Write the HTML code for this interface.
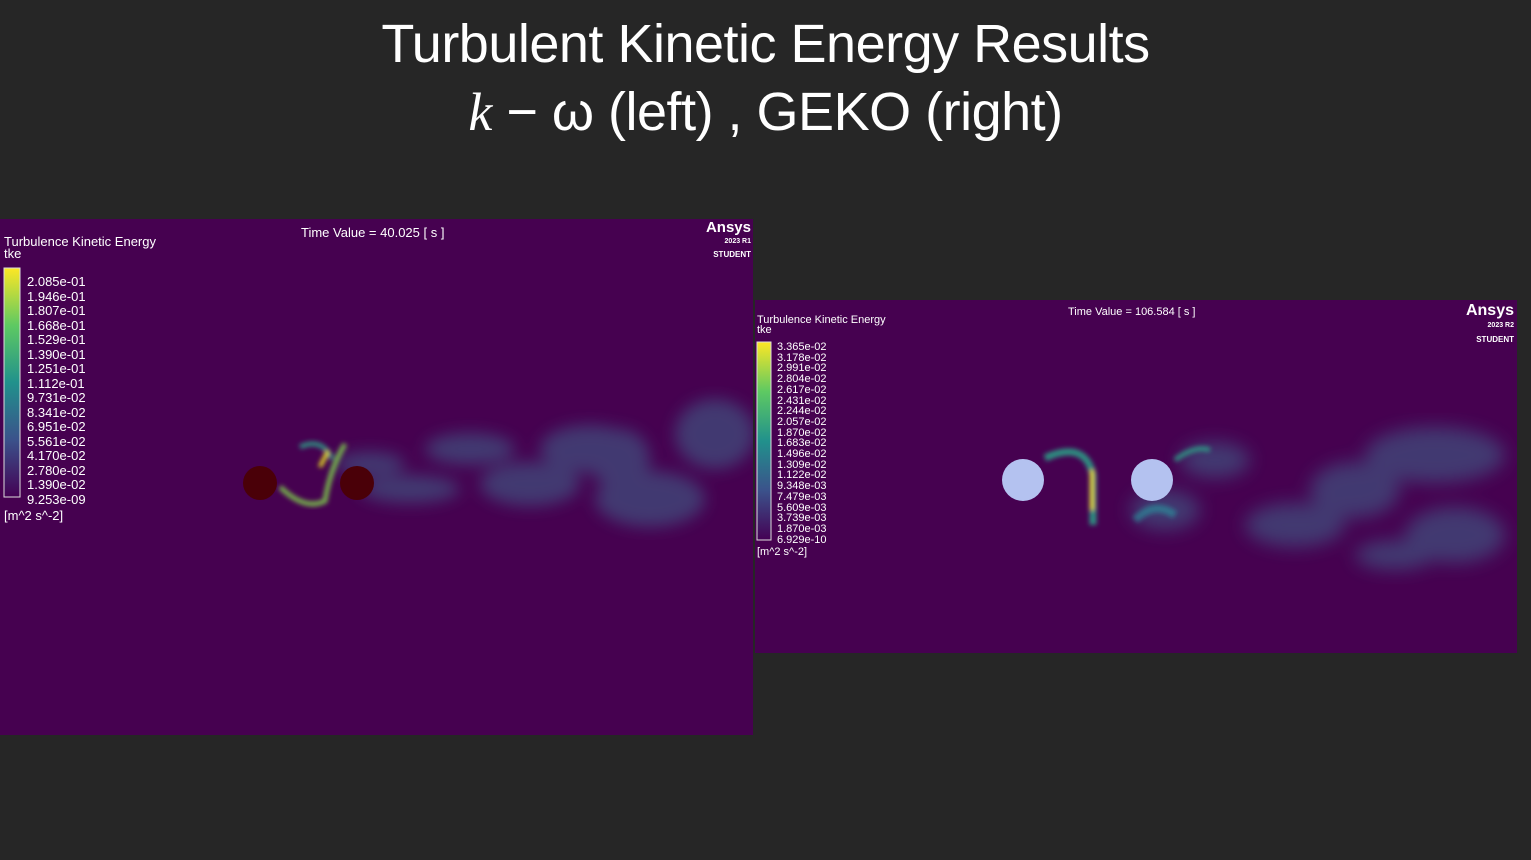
<!DOCTYPE html>
<html><head><meta charset="utf-8">
<style>
body{margin:0;width:1531px;height:860px;background:#262626;overflow:hidden;position:relative;font-family:"Liberation Sans",sans-serif}
.title{position:absolute;left:0;width:1531px;text-align:center;color:#fff;font-weight:300;font-size:54px;line-height:68px;letter-spacing:-0.5px}
.panel{position:absolute;background:#460150;overflow:hidden}
.lbl{position:absolute;color:#fff;white-space:nowrap}
</style></head><body>
<div class="title" style="top:10px">Turbulent Kinetic Energy Results</div>
<div class="title" style="top:78px"><span style="font-family:'Liberation Serif',serif;font-style:italic">k</span> − ω (left) , GEKO (right)</div>

<div class="panel" id="pl" style="left:0;top:219px;width:753px;height:516px">
<svg width="753" height="516" style="position:absolute;left:0;top:0">
<defs><filter id="b1"><feGaussianBlur stdDeviation="8"/></filter><filter id="b2"><feGaussianBlur stdDeviation="2.5"/></filter>
<linearGradient id="cb1" x1="0" y1="1" x2="0" y2="0"><stop offset="0" stop-color="#440154"/><stop offset=".25" stop-color="#3b528b"/><stop offset=".5" stop-color="#21918c"/><stop offset=".75" stop-color="#5ec962"/><stop offset="1" stop-color="#fde725"/></linearGradient></defs>
<g filter="url(#b1)" fill="#3d7e9a" opacity=".45">
<ellipse cx="410" cy="270" rx="50" ry="14"/><ellipse cx="470" cy="230" rx="45" ry="16"/><ellipse cx="530" cy="265" rx="50" ry="22"/><ellipse cx="590" cy="230" rx="50" ry="24"/><ellipse cx="650" cy="280" rx="55" ry="28"/><ellipse cx="715" cy="215" rx="40" ry="35"/><ellipse cx="370" cy="245" rx="35" ry="12"/><ellipse cx="620" cy="240" rx="30" ry="30"/>
</g>
<g filter="url(#b2)">
<path d="M280 268 Q305 292 325 282 Q330 250 345 225" stroke="#7dd04a" stroke-width="5" fill="none" opacity=".85"/>
<path d="M300 228 Q322 218 332 240" stroke="#2aa88a" stroke-width="5" fill="none" opacity=".8"/>
<path d="M320 248 L328 232" stroke="#e6e01e" stroke-width="4"/>
</g>
<circle cx="260" cy="264" r="17" fill="#4a0008"/>
<circle cx="357" cy="264" r="17" fill="#4a0008"/>
<rect x="4" y="49" width="16" height="229" fill="url(#cb1)" stroke="#ddd" stroke-width="1"/>
</svg>
<div class="lbl" style="left:301px;top:6px;font-size:13px">Time Value = 40.025 [ s ]</div>
<div class="lbl" style="left:4px;top:17px;font-size:13px;line-height:12px">Turbulence Kinetic Energy<br>tke</div>
<div class="lbl" style="right:2px;top:3px;font-size:15px;font-weight:bold;text-align:right;line-height:11px">Ansys<br><span style="font-size:7px">2023 R1</span><br><span style="font-size:8px">STUDENT</span></div>
<div class="lbl" style="left:4px;top:289px;font-size:13px">[m^2 s^-2]</div>
<div id="ll"></div>
</div>

<div class="panel" id="pr" style="left:755px;top:300px;width:762px;height:353px">
<svg width="762" height="353" style="position:absolute;left:0;top:0">
<defs><filter id="b3"><feGaussianBlur stdDeviation="9"/></filter><filter id="b4"><feGaussianBlur stdDeviation="2.5"/></filter>
<linearGradient id="cb2" x1="0" y1="1" x2="0" y2="0"><stop offset="0" stop-color="#440154"/><stop offset=".25" stop-color="#3b528b"/><stop offset=".5" stop-color="#21918c"/><stop offset=".75" stop-color="#5ec962"/><stop offset="1" stop-color="#fde725"/></linearGradient></defs>
<g filter="url(#b3)" fill="#3d7e9a" opacity=".45">
<ellipse cx="410" cy="210" rx="35" ry="20"/><ellipse cx="460" cy="160" rx="35" ry="18"/><ellipse cx="540" cy="225" rx="50" ry="22"/><ellipse cx="600" cy="190" rx="45" ry="28"/><ellipse cx="680" cy="155" rx="70" ry="28"/><ellipse cx="700" cy="235" rx="50" ry="28"/><ellipse cx="640" cy="255" rx="40" ry="15"/>
</g>
<g filter="url(#b4)">
<path d="M290 158 Q330 140 338 175 L338 225" stroke="#2aa88a" stroke-width="7" fill="none" opacity=".85"/>
<path d="M337 170 L337 210" stroke="#e6e01e" stroke-width="4"/>
<path d="M420 160 Q440 145 455 150" stroke="#2aa88a" stroke-width="5" fill="none" opacity=".8"/>
<path d="M380 220 Q400 200 420 215" stroke="#2a98a0" stroke-width="8" fill="none" opacity=".6"/>
</g>
<circle cx="268" cy="180" r="21" fill="#b4c2f0"/>
<circle cx="397" cy="180" r="21" fill="#b4c2f0"/>
<rect x="2" y="42" width="14" height="198" fill="url(#cb2)" stroke="#ddd" stroke-width="1"/>
</svg>
<div class="lbl" style="left:313px;top:6px;font-size:11px">Time Value = 106.584 [ s ]</div>
<div class="lbl" style="left:2px;top:15px;font-size:11px;line-height:10px">Turbulence Kinetic Energy<br>tke</div>
<div class="lbl" style="right:3px;top:5px;font-size:16px;font-weight:bold;text-align:right;line-height:12px">Ansys<br><span style="font-size:7px">2023 R2</span><br><span style="font-size:8px">STUDENT</span></div>
<div class="lbl" style="left:2px;top:246px;font-size:11px">[m^2 s^-2]</div>
<div id="rl"></div>
</div>
<script>
const leftTicks=["2.085e-01","1.946e-01","1.807e-01","1.668e-01","1.529e-01","1.390e-01","1.251e-01","1.112e-01","9.731e-02","8.341e-02","6.951e-02","5.561e-02","4.170e-02","2.780e-02","1.390e-02","9.253e-09"];
const rightTicks=["3.365e-02","3.178e-02","2.991e-02","2.804e-02","2.617e-02","2.431e-02","2.244e-02","2.057e-02","1.870e-02","1.683e-02","1.496e-02","1.309e-02","1.122e-02","9.348e-03","7.479e-03","5.609e-03","3.739e-03","1.870e-03","6.929e-10"];
function put(id,arr,x,y0,dy,fs){const c=document.getElementById(id);arr.forEach((t,i)=>{const d=document.createElement('div');d.className='lbl';


d.style.cssText=`left:${x}px;top:${y0+i*dy}px;font-size:${fs}px;line-height:${fs}px`;d.textContent=t;c.appendChild(d);});}
put('ll',leftTicks,27,56,14.5,13);
put('rl',rightTicks,22,42,10.7,11);
</script>
</body></html>
